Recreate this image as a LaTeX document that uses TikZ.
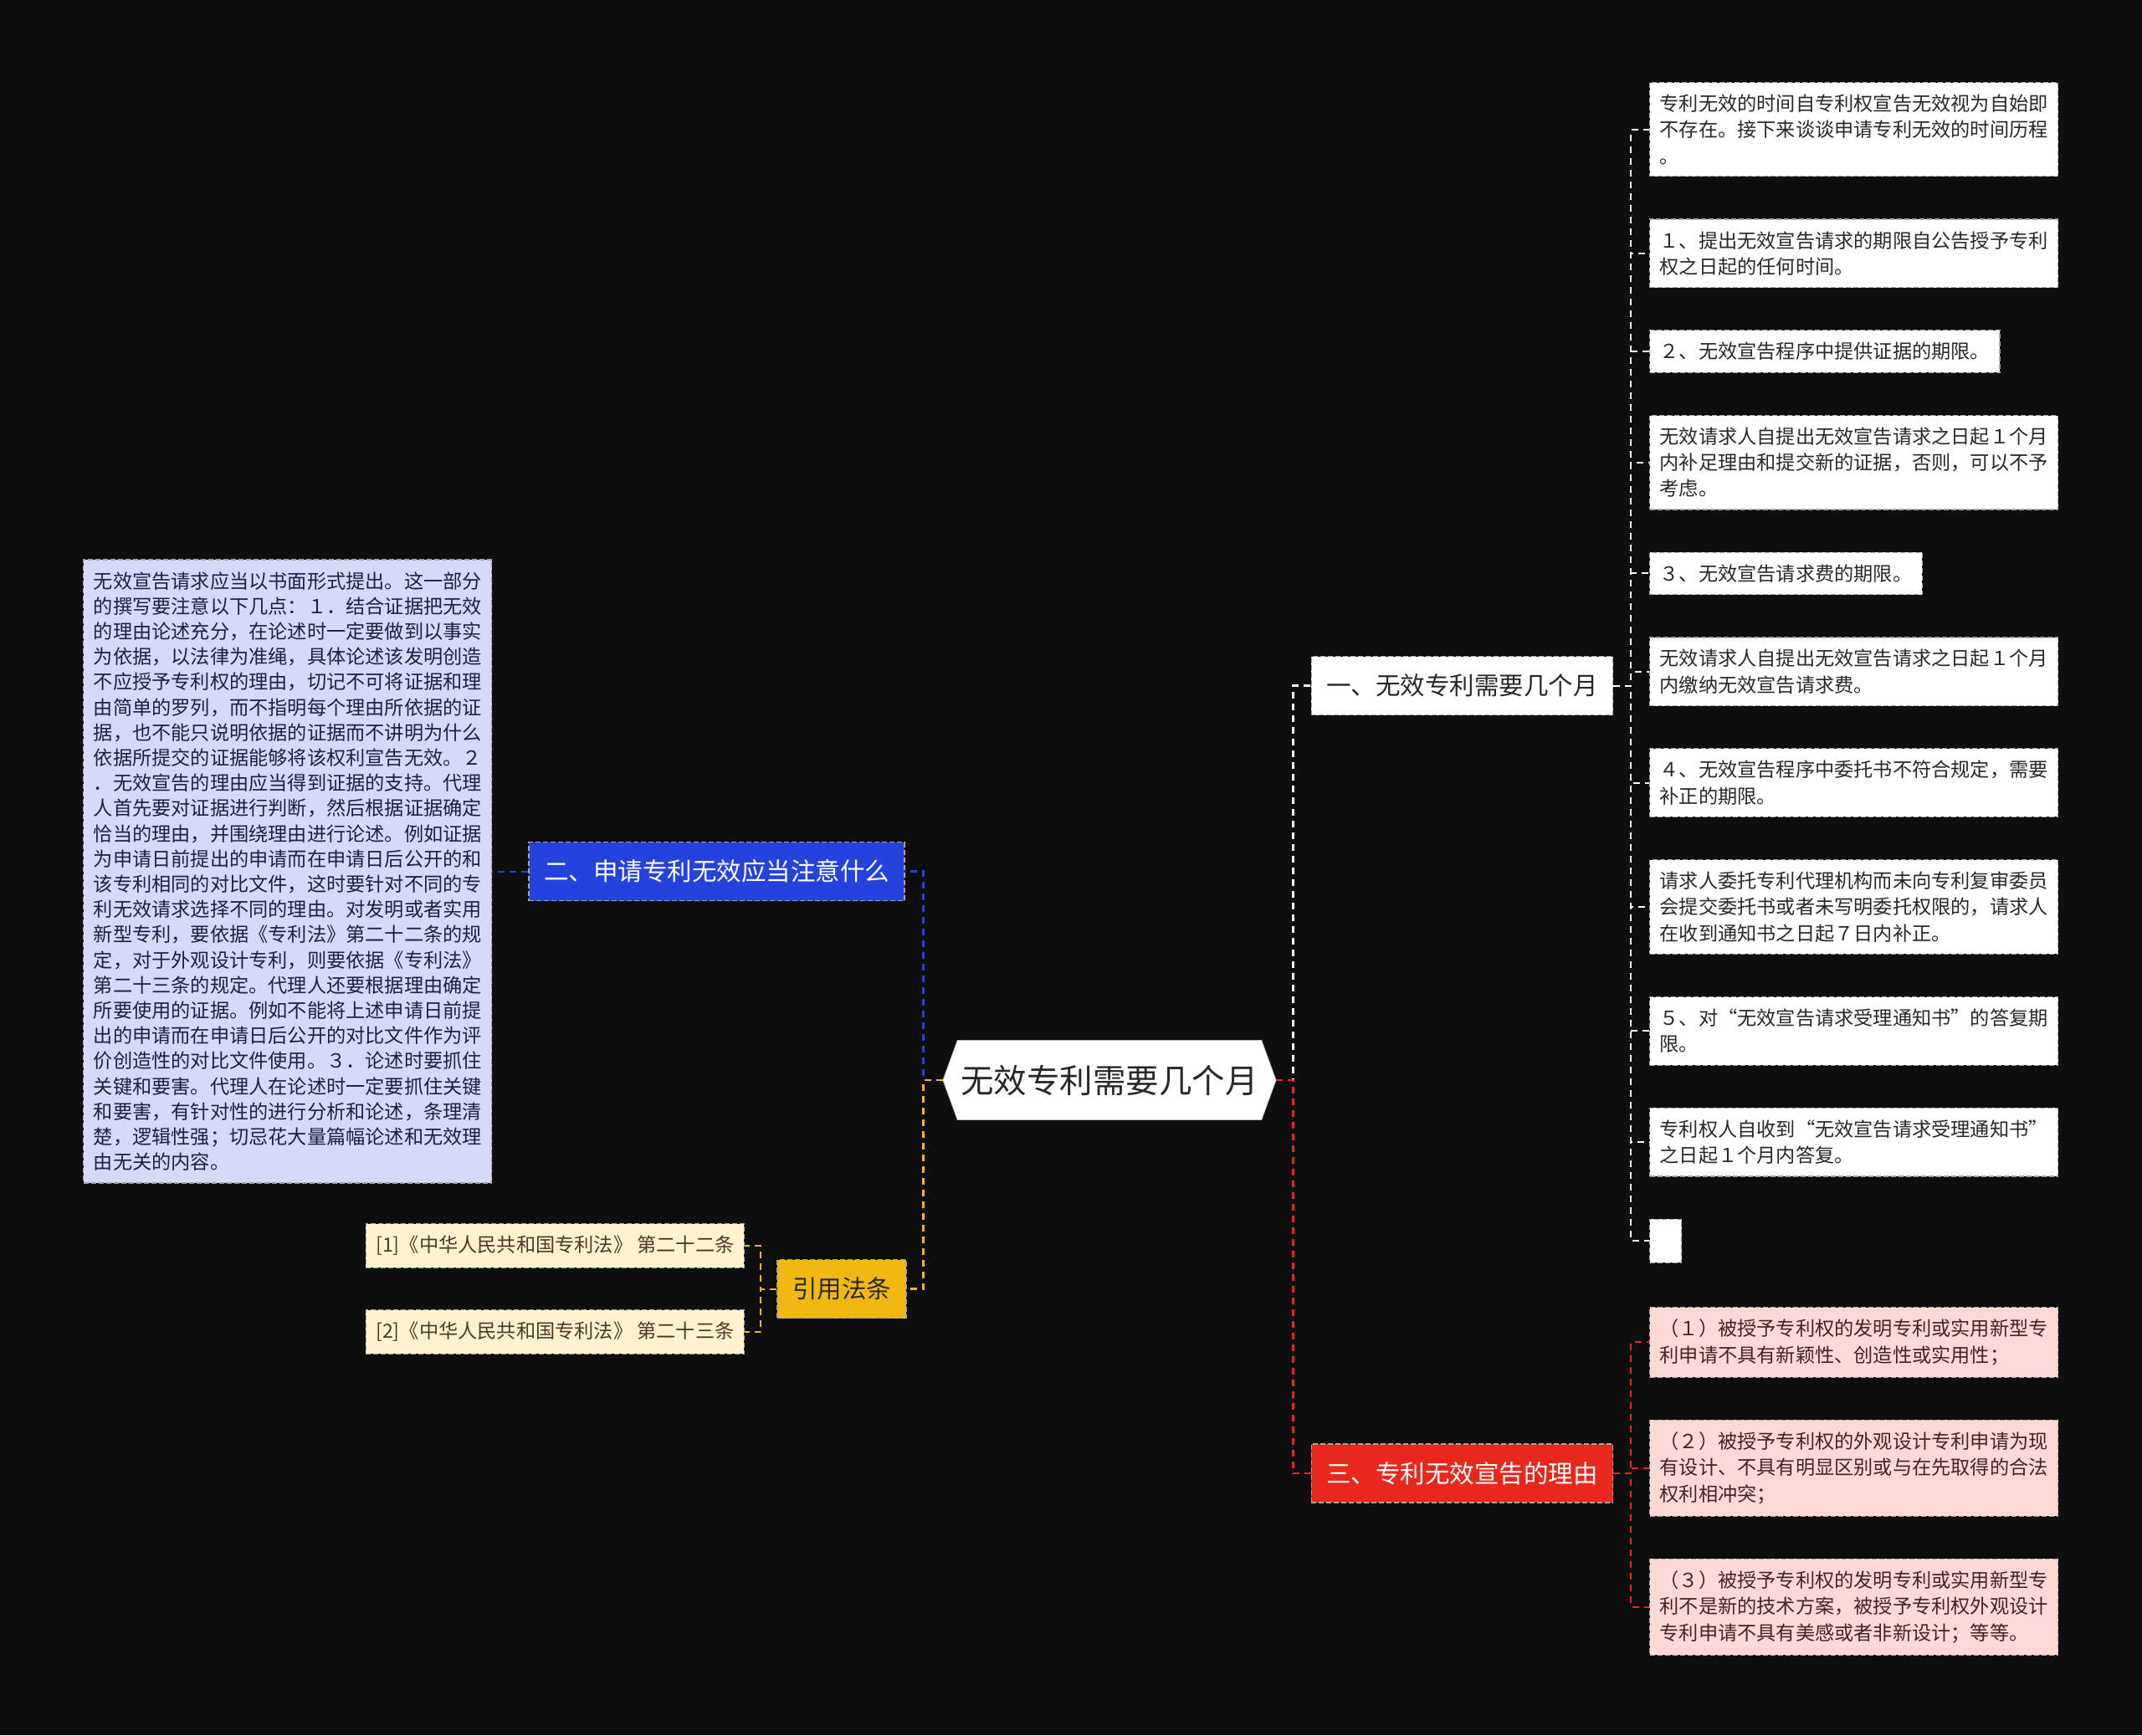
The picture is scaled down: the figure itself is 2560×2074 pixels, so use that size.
\documentclass[tikz,border=0pt]{standalone}
\usepackage{fontspec}
\setmainfont{Noto Sans CJK SC}
\usetikzlibrary{positioning, shapes.symbols}
\definecolor{bg}{RGB}{14,14,14}
\definecolor{topicblue}{RGB}{38,66,220}
\definecolor{topicred}{RGB}{232,40,28}
\definecolor{topicyel}{RGB}{240,184,16}
\definecolor{lav}{RGB}{214,218,248}
\definecolor{pinkleaf}{RGB}{252,217,213}
\definecolor{cream}{RGB}{255,243,207}
\definecolor{txt}{RGB}{40,40,40}
\definecolor{navytxt}{RGB}{30,30,70}

\begin{document}
\begin{tikzpicture}[x=0.5pt, y=-0.5pt,
      node distance=25pt and 21.5pt,
      box/.style={draw=gray!70, line width=0.6pt, dash pattern=on 3pt off 1.5pt, inner xsep=6pt, inner ysep=7.2pt, align=left, font=\fontsize{11.6}{15.6}\selectfont, text=txt},
      leaf/.style={box, fill=white},
      topic/.style={draw=gray!70, line width=0.6pt, dash pattern=on 3pt off 1.5pt, inner xsep=9pt, minimum height=35pt, font=\fontsize{14.75}{17}\selectfont},
      link/.style={dash pattern=on 4pt off 3pt, line width=1.3pt},
      twig/.style={dash pattern=on 4pt off 3pt, line width=1pt}]
    \fill[bg] (0,0) rectangle (2560,2074);

    % centre and main topics
    \node[signal, signal to=east and west, signal pointer angle=140, fill=white, draw=gray!50, minimum width=199pt, minimum height=47.5pt, inner xsep=2pt, font=\fontsize{19.75}{22}\selectfont, text=txt] (root) at (1326,1291) {无效专利需要几个月};
    \node[topic, fill=white, text=txt] (b1) at (1747.5,819.5) {一、无效专利需要几个月};
    \node[topic, fill=topicblue, text=white] (b2) at (856.5,1041.5) {二、申请专利无效应当注意什么};
    \node[topic, fill=topicyel, text=txt] (b4) at (1006,1540.5) {引用法条};
    \node[topic, fill=topicred, text=white] (b3) at (1747.5,1761) {三、专利无效宣告的理由};

    \draw[link, white] (root.east) -- ++(10pt,0) |- (b1.west);
    \draw[link, topicred] (root.east) -- ++(10pt,0) |- (b3.west);
    \draw[link, topicblue] (root.west) -- ++(-11.5pt,0) |- (b2.east);
    \draw[link, topicyel] (root.west) -- ++(-11.5pt,0) |- (b4.east);

    % time limits
    \node[leaf, anchor=north west] (l1) at (1971,98) {专利无效的时间自专利权宣告无效视为自始即\\不存在。接下来谈谈申请专利无效的时间历程\\。};
    \node[leaf, below=of l1.south west, anchor=north west] (l2) {１、提出无效宣告请求的期限自公告授予专利\\权之日起的任何时间。};
    \node[leaf, below=of l2.south west, anchor=north west] (l3) {２、无效宣告程序中提供证据的期限。};
    \node[leaf, below=of l3.south west, anchor=north west] (l4) {无效请求人自提出无效宣告请求之日起１个月\\内补足理由和提交新的证据，否则，可以不予\\考虑。};
    \node[leaf, below=of l4.south west, anchor=north west] (l5) {３、无效宣告请求费的期限。};
    \node[leaf, below=of l5.south west, anchor=north west] (l6) {无效请求人自提出无效宣告请求之日起１个月\\内缴纳无效宣告请求费。};
    \node[leaf, below=of l6.south west, anchor=north west] (l7) {４、无效宣告程序中委托书不符合规定，需要\\补正的期限。};
    \node[leaf, below=of l7.south west, anchor=north west] (l8) {请求人委托专利代理机构而未向专利复审委员\\会提交委托书或者未写明委托权限的，请求人\\在收到通知书之日起７日内补正。};
    \node[leaf, below=of l8.south west, anchor=north west] (l9) {５、对“无效宣告请求受理通知书”的答复期\\限。};
    \node[leaf, below=of l9.south west, anchor=north west] (l10) {专利权人自收到“无效宣告请求受理通知书”\\之日起１个月内答复。};
    \node[leaf, below=of l10.south west, anchor=north west, minimum width=19pt, minimum height=26pt] (l11) {};
    \foreach \i in {1,...,11}
      \draw[twig, white] (b1.east) -- ++(10.5pt,0) |- (l\i.west);

    % what to watch
    \node[box, fill=lav, text=navytxt, font=\fontsize{11.6}{15.1}\selectfont, left=of b2] (desc) {无效宣告请求应当以书面形式提出。这一部分\\的撰写要注意以下几点：１．结合证据把无效\\的理由论述充分，在论述时一定要做到以事实\\为依据，以法律为准绳，具体论述该发明创造\\不应授予专利权的理由，切记不可将证据和理\\由简单的罗列，而不指明每个理由所依据的证\\据，也不能只说明依据的证据而不讲明为什么\\依据所提交的证据能够将该权利宣告无效。２\\．无效宣告的理由应当得到证据的支持。代理\\人首先要对证据进行判断，然后根据证据确定\\恰当的理由，并围绕理由进行论述。例如证据\\为申请日前提出的申请而在申请日后公开的和\\该专利相同的对比文件，这时要针对不同的专\\利无效请求选择不同的理由。对发明或者实用\\新型专利，要依据《专利法》第二十二条的规\\定，对于外观设计专利，则要依据《专利法》\\第二十三条的规定。代理人还要根据理由确定\\所要使用的证据。例如不能将上述申请日前提\\出的申请而在申请日后公开的对比文件作为评\\价创造性的对比文件使用。３．论述时要抓住\\关键和要害。代理人在论述时一定要抓住关键\\和要害，有针对性的进行分析和论述，条理清\\楚，逻辑性强；切忌花大量篇幅论述和无效理\\由无关的内容。};
    \draw[twig, topicblue] (b2.west) -- (desc.east);

    % cited law
    \node[box, fill=cream, text=txt!80!brown, anchor=east] (r1) at (890,1489) {[1]《中华人民共和国专利法》 第二十二条};
    \node[box, fill=cream, text=txt!80!brown, anchor=east] (r2) at (890,1592) {[2]《中华人民共和国专利法》 第二十三条};
    \draw[twig, topicyel] (b4.west) -- ++(-9.5pt,0) |- (r1.east);
    \draw[twig, topicyel] (b4.west) -- ++(-9.5pt,0) |- (r2.east);

    % reasons
    \node[box, fill=pinkleaf, text=txt!85!red, anchor=north west] (p1) at (1971,1562) {（１）被授予专利权的发明专利或实用新型专\\利申请不具有新颖性、创造性或实用性；};
    \node[box, fill=pinkleaf, text=txt!85!red, below=of p1.south west, anchor=north west] (p2) {（２）被授予专利权的外观设计专利申请为现\\有设计、不具有明显区别或与在先取得的合法\\权利相冲突；};
    \node[box, fill=pinkleaf, text=txt!85!red, below=of p2.south west, anchor=north west] (p3) {（３）被授予专利权的发明专利或实用新型专\\利不是新的技术方案，被授予专利权外观设计\\专利申请不具有美感或者非新设计；等等。};
    \foreach \i in {1,2,3}
      \draw[twig, topicred] (b3.east) -- ++(10.5pt,0) |- (p\i.west);
\end{tikzpicture}
\end{document}
